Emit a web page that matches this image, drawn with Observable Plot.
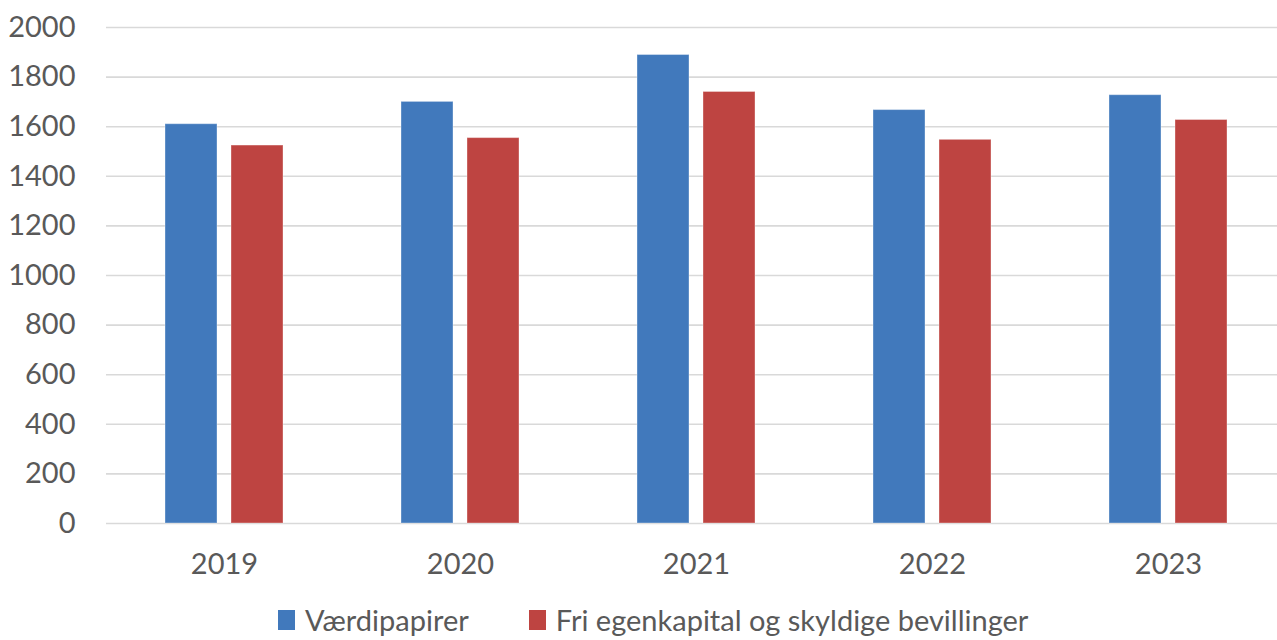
<!DOCTYPE html>
<html>
<head>
<meta charset="utf-8">
<script src="https://cdn.jsdelivr.net/npm/d3@7"></script>
<script src="https://cdn.jsdelivr.net/npm/@observablehq/plot@0.6"></script>
<style>
  html, body { margin: 0; padding: 0; background: #fff; }
  #wrap { width: 1277px; height: 640px; overflow: hidden; position: relative; font-family: Lato, "Open Sans", sans-serif; color: #595959; }
  #legend { position: absolute; left: 278px; top: 602px; height: 36px; display: flex; align-items: center; font-size: 29px; line-height: 36px; white-space: nowrap; }
  .item { display: flex; align-items: center; margin-right: 60px; }
  .sw { width: 17px; height: 20px; margin-right: 10px; }
</style>
</head>
<body>
<div id="wrap">
  <div id="chart"></div>
  <div id="legend"></div>
</div>
<script>
const years = ["2019", "2020", "2021", "2022", "2023"];
const seriesNames = ["Værdipapirer", "Fri egenkapital og skyldige bevillinger"];
const vaerdipapirer = [1610, 1700, 1889, 1667, 1727];
const friEgenkapital = [1524, 1554, 1740, 1547, 1627];
const colors = ["#4179bc", "#be4441"];
const yTicks = [0, 200, 400, 600, 800, 1000, 1200, 1400, 1600, 1800, 2000];

const data = [];
years.forEach((y, i) => {
  data.push({year: y, series: seriesNames[0], value: vaerdipapirer[i]});
  data.push({year: y, series: seriesNames[1], value: friEgenkapital[i]});
});

const chart = Plot.plot({
  width: 1277,
  height: 600,
  marginLeft: 105,
  marginRight: -10,
  marginTop: 27,
  marginBottom: 77,
  style: {fontFamily: "Lato, 'Open Sans', sans-serif", fontSize: "29px", color: "#595959", background: "#fff"},
  fx: {domain: years, padding: 0, axis: "bottom", tickSize: 0, tickPadding: 30, label: null},
  x: {domain: seriesNames, paddingInner: 0.21, paddingOuter: 0.87, axis: null},
  y: {domain: [0, 2000], ticks: yTicks, tickSize: 0, tickPadding: 31, label: null, tickFormat: d => String(d)},
  color: {domain: seriesNames, range: colors},
  marks: [
    Plot.gridY(yTicks, {stroke: "#d9d9d9", strokeOpacity: 1, strokeWidth: 1.6}),
    Plot.barY(data, {fx: "year", x: "series", y: "value", fill: "series", stroke: "#ffffff", strokeOpacity: 0.35, strokeWidth: 1})
  ]
});
document.getElementById("chart").appendChild(chart);

const legend = document.getElementById("legend");
seriesNames.forEach((name, i) => {
  const item = document.createElement("div");
  item.className = "item";
  const sw = document.createElement("span");
  sw.className = "sw";
  sw.style.background = colors[i];
  const t = document.createElement("span");
  t.textContent = name;
  item.appendChild(sw);
  item.appendChild(t);
  legend.appendChild(item);
});
</script>
</body>
</html>
